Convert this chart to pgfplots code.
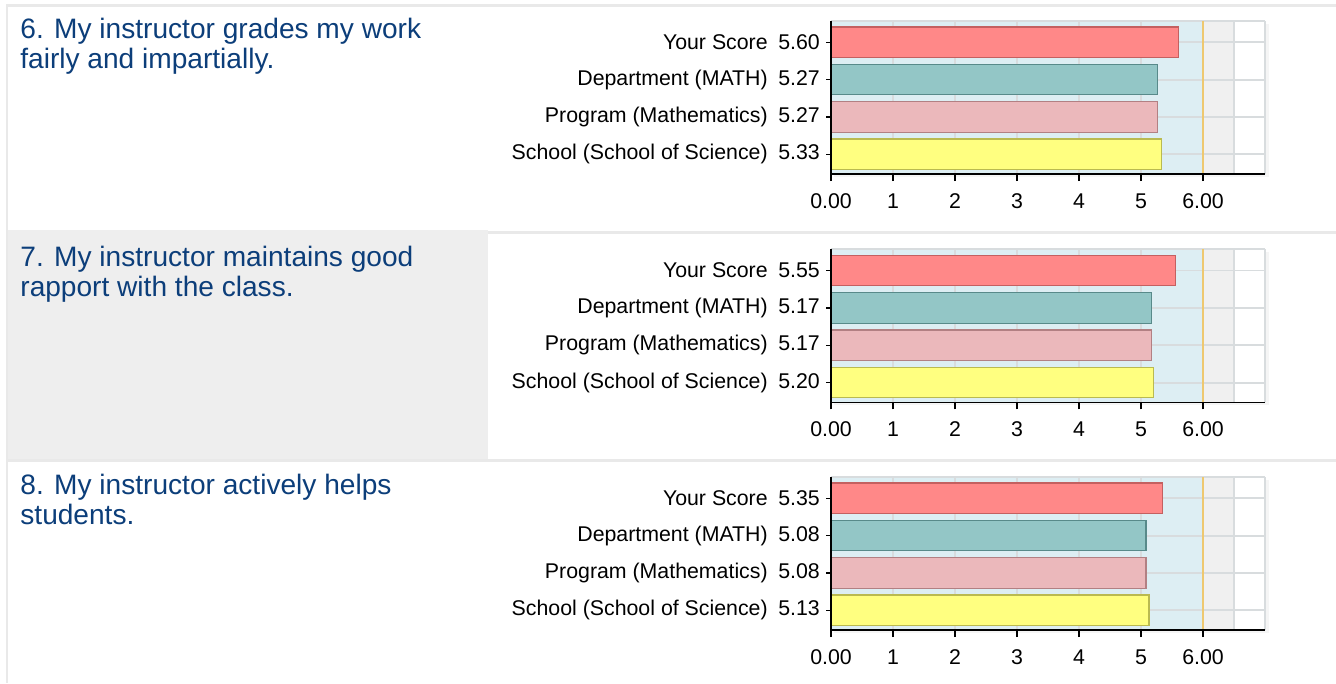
\documentclass[border=0pt]{standalone}
\usepackage{fontspec}
\setmainfont{Liberation Sans}
\usepackage{pgfplots}
\pgfplotsset{compat=1.18}

\definecolor{ttl}{RGB}{12,62,122}
\definecolor{cellgray}{RGB}{238,238,238}
\definecolor{bordergray}{RGB}{233,233,233}
\definecolor{plotblue}{RGB}{221,238,243}
\definecolor{plotgray}{RGB}{240,240,240}
\definecolor{gridc}{RGB}{216,220,222}
\definecolor{orangeline}{RGB}{238,200,112}
\definecolor{cA}{RGB}{255,136,136}\definecolor{cAd}{RGB}{196,96,96}
\definecolor{cB}{RGB}{147,198,198}\definecolor{cBd}{RGB}{88,138,138}
\definecolor{cC}{RGB}{235,184,187}\definecolor{cCd}{RGB}{178,128,131}
\definecolor{cD}{RGB}{255,255,128}\definecolor{cDd}{RGB}{186,186,80}

\pgfplotsset{
  scorechart/.style={
    scale only axis, width=217bp, height=76.65bp,
    anchor=south west,
    xmin=0, xmax=7, ymin=-0.527, ymax=3.578,
    enlargelimits=false,
    xbar, bar width=15.25bp, bar shift=0pt,
    axis x line*=bottom, axis y line*=left,
    axis line style={black, line width=0.7bp},
    tick align=outside,
    axis on top,
    xtick={0,...,6}, xticklabels={0.00,1,2,3,4,5,6.00},
    ytick={0,1,2,3},
    tick style={black, line width=0.6bp},
    xtick style={/pgfplots/major tick length=3.5bp},
    ytick style={/pgfplots/major tick length=2.5bp},
    ticklabel style={font=\fontsize{10.7}{12}\selectfont},
    xticklabel style={yshift=-2bp},
    yticklabel style={xshift=2.2bp},
    clip=false,
  },
}

\newcommand{\chartbg}{%
  \fill[plotblue] (axis cs:0,-0.527) rectangle (axis cs:6,3.578);
  \fill[plotgray] (axis cs:6,-0.527) rectangle (axis cs:6.5,3.578);
  \fill[white] (axis cs:6.5,-0.527) rectangle (axis cs:7,3.578);
  \pgfplotsinvokeforeach{1,2,3,4,5,6,6.5,7}{\draw[gridc, line width=0.9bp] (axis cs:##1,-0.527) -- (axis cs:##1,3.578);}
  \pgfplotsinvokeforeach{0,1,2,3,3.578}{\draw[gridc, line width=0.9bp] (axis cs:0,##1) -- (axis cs:7,##1);}
  \draw[orangeline, line width=1bp] (axis cs:6,-0.527) -- (axis cs:6,3.578);
}

\begin{document}
\begin{tikzpicture}[x=0.5bp, y=-0.5bp]
\useasboundingbox (0,0) rectangle (1336,683);
\fill[white] (0,0) rectangle (1336,683);
% table borders
\fill[bordergray] (6,4) rectangle (1336,7);
\fill[bordergray] (6,4) rectangle (8,683);
\fill[cellgray] (8,230) rectangle (488,459);
\fill[bordergray] (488,231) rectangle (1336,234);
\fill[bordergray] (8,459) rectangle (1336,462);

% titles
\tikzset{ttlstyle/.style={anchor=base west, inner sep=0pt, text=ttl, font=\fontsize{14.1}{15}\selectfont}}
\node[ttlstyle] at (20,38.3) {6. My instructor grades my work};
\node[ttlstyle] at (20,68.3) {fairly and impartially.};
\node[ttlstyle] at (20,266.6) {7. My instructor maintains good};
\node[ttlstyle] at (20,296.6) {rapport with the class.};
\node[ttlstyle] at (20,494.3) {8. My instructor actively helps};
\node[ttlstyle] at (20,524.3) {students.};

% soft shadows
\fill[black!4] (834,24) rectangle (1269,177);
\fill[black!4] (834,252.3) rectangle (1269,405.3);
\fill[black!4] (834,480) rectangle (1269,633);

\coordinate (A1) at (831,174);
\coordinate (A2) at (831,402.3);
\coordinate (A3) at (831,630);

% Chart 6
\begin{axis}[scorechart, at={(A1)},
  yticklabels={School (School of Science)\hspace{0.5em}5.33,
               Program (Mathematics)\hspace{0.5em}5.27,
               Department (MATH)\hspace{0.5em}5.27,
               Your Score\hspace{0.5em}5.60}]
  \chartbg
  \addplot[fill=cA, draw=cAd, line width=0.6bp] coordinates {(5.60,3)};
  \addplot[fill=cB, draw=cBd, line width=0.6bp] coordinates {(5.27,2)};
  \addplot[fill=cC, draw=cCd, line width=0.6bp] coordinates {(5.27,1)};
  \addplot[fill=cD, draw=cDd, line width=0.6bp] coordinates {(5.33,0)};
\end{axis}

% Chart 7
\begin{axis}[scorechart, at={(A2)},
  yticklabels={School (School of Science)\hspace{0.5em}5.20,
               Program (Mathematics)\hspace{0.5em}5.17,
               Department (MATH)\hspace{0.5em}5.17,
               Your Score\hspace{0.5em}5.55}]
  \chartbg
  \addplot[fill=cA, draw=cAd, line width=0.6bp] coordinates {(5.55,3)};
  \addplot[fill=cB, draw=cBd, line width=0.6bp] coordinates {(5.17,2)};
  \addplot[fill=cC, draw=cCd, line width=0.6bp] coordinates {(5.17,1)};
  \addplot[fill=cD, draw=cDd, line width=0.6bp] coordinates {(5.20,0)};
\end{axis}

% Chart 8
\begin{axis}[scorechart, at={(A3)},
  yticklabels={School (School of Science)\hspace{0.5em}5.13,
               Program (Mathematics)\hspace{0.5em}5.08,
               Department (MATH)\hspace{0.5em}5.08,
               Your Score\hspace{0.5em}5.35}]
  \chartbg
  \addplot[fill=cA, draw=cAd, line width=0.6bp] coordinates {(5.35,3)};
  \addplot[fill=cB, draw=cBd, line width=0.6bp] coordinates {(5.08,2)};
  \addplot[fill=cC, draw=cCd, line width=0.6bp] coordinates {(5.08,1)};
  \addplot[fill=cD, draw=cDd, line width=0.6bp] coordinates {(5.13,0)};
\end{axis}
\end{tikzpicture}
\end{document}
